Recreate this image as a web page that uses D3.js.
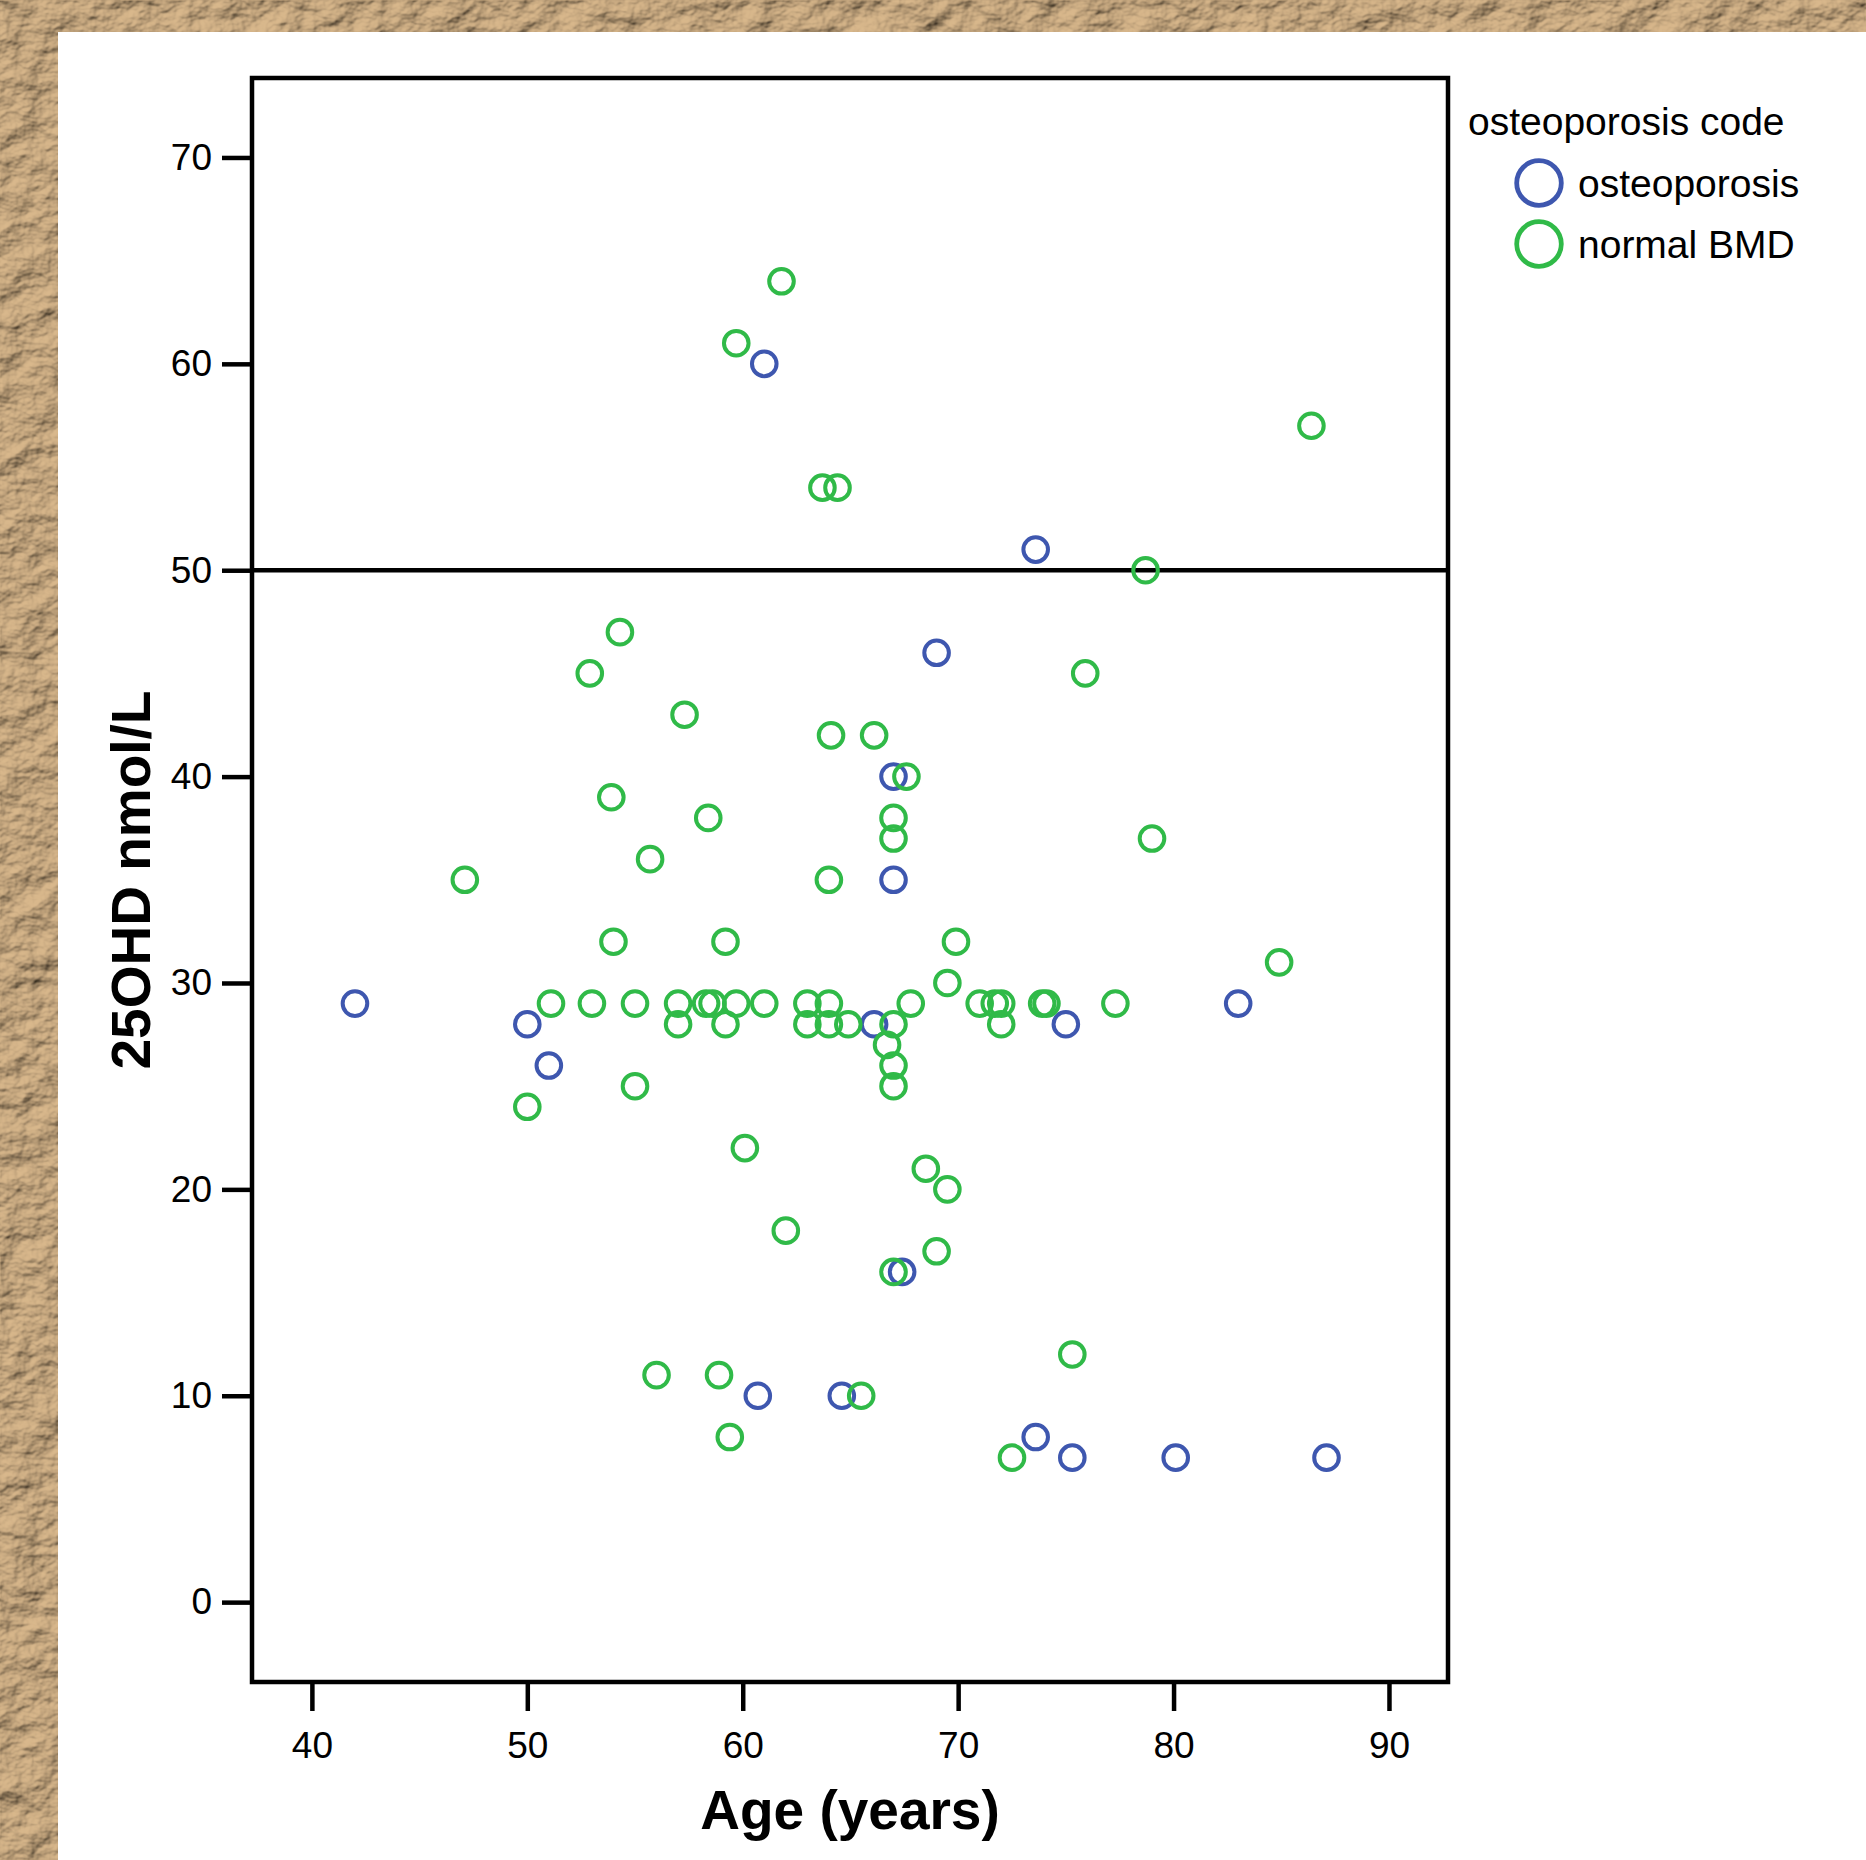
<!DOCTYPE html>
<meta charset="utf-8">
<script src="https://d3js.org/d3.v7.min.js"></script>
<style>
  body { margin: 0; background: #fff; }
  text { font-family: "Liberation Sans", Arial, sans-serif; }
</style>

<div id="my_dataviz"></div>

<script>
// osteoporosis group (age, 25OHD)
var osteoAge = [42.0, 50.0, 51.0, 61.0, 73.6, 69.0, 67.0, 67.0, 66.1, 75.0, 83.0, 67.4, 60.7, 64.6, 73.6, 75.3, 80.1, 87.1];
var osteoVal = [29, 28, 26, 60, 51, 46, 40, 35, 28, 28, 29, 16, 10, 10, 8, 7, 7, 7];

// normal BMD group
var normalAge = [61.8, 59.7, 63.7, 64.4, 86.4, 78.7, 54.3, 52.9, 75.9, 57.3, 64.1, 66.1, 67.6, 53.9, 58.4, 67.0, 67.0, 79.0, 55.7, 47.1, 64.0, 54.0, 59.2, 69.9, 84.9, 69.5,
  51.1, 53.0, 55.0, 57.0, 58.3, 58.6, 59.7, 61.0, 63.0, 64.0, 67.8, 71.0, 71.7, 72.0, 73.9, 74.1, 77.3,
  57.0, 59.2, 63.0, 64.0, 64.9, 67.0, 72.0,
  66.7, 67.0, 67.0, 55.0, 50.0, 60.1, 68.5, 69.5, 62.0, 69.0, 67.0, 75.3, 56.0, 58.9, 65.5, 59.4, 72.5];
var normalVal = [64, 61, 54, 54, 57, 50, 47, 45, 45, 43, 42, 42, 40, 39, 38, 38, 37, 37, 36, 35, 35, 32, 32, 32, 31, 30,
  29, 29, 29, 29, 29, 29, 29, 29, 29, 29, 29, 29, 29, 29, 29, 29, 29,
  28, 28, 28, 28, 28, 28, 28,
  27, 26, 25, 25, 24, 22, 21, 20, 18, 17, 16, 12, 11, 11, 10, 8, 7];

var xTicks = [40, 50, 60, 70, 80, 90];
var yTicks = [0, 10, 20, 30, 40, 50, 60, 70];
var refLine = 50;

var groupNames = ["osteoporosis", "normal BMD"];
var groupColors = ["#3e57af", "#30ba48"];
var legendTitle = "osteoporosis code";

var W = 1866, H = 1860;
var box = {left: 252, top: 78, right: 1448, bottom: 1682};

var svg = d3.select("#my_dataviz")
  .append("svg")
    .attr("width", W)
    .attr("height", H);

// textured paper border
var filter = svg.append("defs").append("filter")
    .attr("id", "paper")
    .attr("x", 0).attr("y", 0).attr("width", 1).attr("height", 1);
filter.append("feTurbulence")
    .attr("type", "fractalNoise")
    .attr("baseFrequency", "0.03 0.04")
    .attr("numOctaves", 4)
    .attr("seed", 7)
    .attr("result", "noise");
filter.append("feDiffuseLighting")
    .attr("in", "noise")
    .attr("lighting-color", "#d9b88c")
    .attr("surfaceScale", 7)
  .append("feDistantLight")
    .attr("azimuth", 235)
    .attr("elevation", 50);

svg.append("rect")
    .attr("width", W).attr("height", H)
    .attr("fill", "#c4a275")
    .attr("filter", "url(#paper)");
svg.append("rect")
    .attr("x", 58).attr("y", 32)
    .attr("width", W - 58).attr("height", H - 32)
    .attr("fill", "#fff");

// scales
var x = d3.scaleLinear()
  .domain([37.22, 92.74])
  .range([box.left, box.right]);
var y = d3.scaleLinear()
  .domain([-3.87, 73.85])
  .range([box.bottom, box.top]);

// axes
var yAxis = svg.append("g")
    .attr("transform", "translate(" + box.left + ",0)")
    .call(d3.axisLeft(y).tickValues(yTicks).tickSize(30).tickPadding(10).tickFormat(d3.format("d")));
var xAxis = svg.append("g")
    .attr("transform", "translate(0," + box.bottom + ")")
    .call(d3.axisBottom(x).tickValues(xTicks).tickSize(29).tickPadding(21).tickFormat(d3.format("d")));

[xAxis, yAxis].forEach(function(a) {
  a.select(".domain").remove();
  a.selectAll(".tick line").attr("stroke", "#000").attr("stroke-width", 4.5);
  a.selectAll(".tick text")
    .attr("fill", "#000")
    .style("font-size", "37px")
    .style("font-family", "'Liberation Sans', Arial, sans-serif");
});

// frame
svg.append("rect")
    .attr("x", box.left).attr("y", box.top)
    .attr("width", box.right - box.left)
    .attr("height", box.bottom - box.top)
    .attr("fill", "none")
    .attr("stroke", "#000")
    .attr("stroke-width", 4.5);

// reference line at 50
svg.append("line")
    .attr("x1", box.left).attr("x2", box.right)
    .attr("y1", y(refLine)).attr("y2", y(refLine))
    .attr("stroke", "#000")
    .attr("stroke-width", 4.5);

// points: osteoporosis first, normal BMD on top
var groups = [
  osteoAge.map(function(a, i) { return {age: a, val: osteoVal[i]}; }),
  normalAge.map(function(a, i) { return {age: a, val: normalVal[i]}; })
];
groups.forEach(function(pts, g) {
  svg.append("g")
    .selectAll("circle")
    .data(pts)
    .enter()
    .append("circle")
      .attr("cx", function(d) { return x(d.age); })
      .attr("cy", function(d) { return y(d.val); })
      .attr("r", 12.3)
      .attr("fill", "none")
      .attr("stroke", groupColors[g])
      .attr("stroke-width", 4);
});

// axis titles
svg.append("text")
    .attr("x", (box.left + box.right) / 2)
    .attr("y", 1829)
    .attr("text-anchor", "middle")
    .style("font-size", "55px")
    .style("font-weight", "bold")
    .text("Age (years)");
svg.append("text")
    .attr("transform", "translate(150," + (box.top + box.bottom) / 2 + ") rotate(-90)")
    .attr("text-anchor", "middle")
    .style("font-size", "55px")
    .style("font-weight", "bold")
    .text("25OHD nmol/L");

// legend
svg.append("text")
    .attr("x", 1468).attr("y", 135)
    .style("font-size", "39px")
    .text(legendTitle);
var leg = svg.append("g")
  .selectAll("g")
  .data(groupNames)
  .enter()
  .append("g")
    .attr("transform", function(d, i) { return "translate(1539," + (183 + i * 61) + ")"; });
leg.append("circle")
    .attr("r", 22.3)
    .attr("fill", "none")
    .attr("stroke", function(d, i) { return groupColors[i]; })
    .attr("stroke-width", 4.8);
leg.append("text")
    .attr("x", 39)
    .attr("y", 14)
    .style("font-size", "39px")
    .text(function(d) { return d; });
</script>
